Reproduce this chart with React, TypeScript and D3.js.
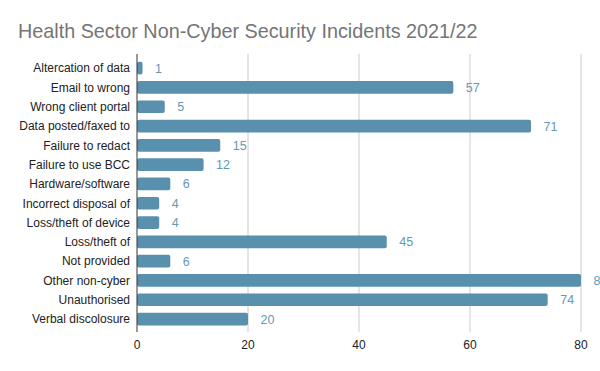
import React, { useEffect } from 'react'
import * as d3 from 'd3'

const categories = [
  'Altercation of data',
  'Email to wrong',
  'Wrong client portal',
  'Data posted/faxed to',
  'Failure to redact',
  'Failure to use BCC',
  'Hardware/software',
  'Incorrect disposal of',
  'Loss/theft of device',
  'Loss/theft of',
  'Not provided',
  'Other non-cyber',
  'Unauthorised',
  'Verbal discolosure',
]
const incidents = [1, 57, 5, 71, 15, 12, 6, 4, 4, 45, 6, 80, 74, 20]
const xTicks = [0, 20, 40, 60, 80]

const W = 600
const H = 371
const plot = { left: 137, right: 581, top: 54, bottom: 332 }
const barColor = '#5890ae'
const labelColor = '#6598b6'
const font = '"Liberation Sans", Arial, sans-serif'

const App = () => {
  useEffect(() => {
    document.body.style.margin = '0'
  }, [])

  const x = d3.scaleLinear().domain([0, 80]).range([plot.left, plot.right])
  const y = d3.scaleBand()
    .domain(categories)
    .range([58.5, 328.7])
    .paddingInner(0.34)
    .paddingOuter(0.17)

  return (
    <svg width={W} height={H} style={{ display: 'block', fontFamily: font }}>
      <rect width={W} height={H} fill="#fff" />
      <text x={18} y={37.5} fontSize={19.8} fill="#757575">
        Health Sector Non-Cyber Security Incidents 2021/22
      </text>

      {/* gridlines */}
      {xTicks.slice(1).map(t => (
        <line key={t} x1={x(t)} x2={x(t)} y1={plot.top} y2={plot.bottom}
          stroke="#cccccc" strokeWidth={1} />
      ))}

      {/* bars, value labels (the 80 label runs off the edge, as in the original) */}
      {categories.map((c, i) => (
        <g key={c}>
          <rect x={x(0)} y={y(c)} width={x(incidents[i]) - x(0)}
            height={y.bandwidth()} rx={2} fill={barColor} />
          <text x={x(incidents[i]) + 12.5} y={y(c)! + y.bandwidth() / 2}
            dy="0.36em" fontSize={12.5} fill={labelColor}>
            {incidents[i]}
          </text>
          <text x={130} y={y(c)! + y.bandwidth() / 2} dy="0.36em"
            fontSize={12} fill="#222" textAnchor="end">
            {c}
          </text>
        </g>
      ))}

      {/* axis */}
      <line x1={plot.left} x2={plot.left} y1={plot.top} y2={plot.bottom}
        stroke="#333" strokeWidth={1} />
      {xTicks.map(t => (
        <text key={t} x={x(t)} y={349} fontSize={12} fill="#222" textAnchor="middle">
          {t}
        </text>
      ))}
    </svg>
  )
}

export default App
